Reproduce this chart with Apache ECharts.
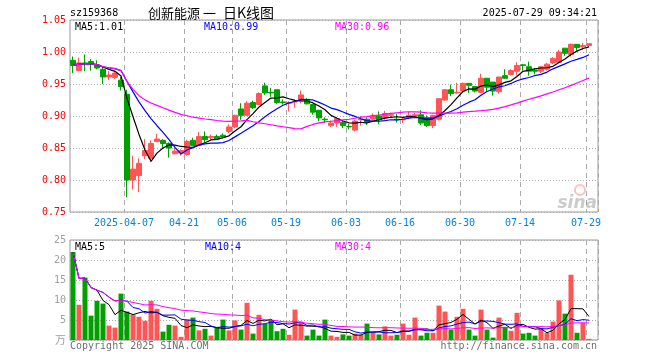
<!DOCTYPE html>
<html>
<head>
<meta charset="utf-8">
<script src="https://cdn.jsdelivr.net/npm/echarts@6/dist/echarts.min.js"></script>
<style>html,body{margin:0;padding:0;background:#fff;}#c{width:660px;height:360px;}</style>
</head>
<body>
<div id="c"></div>
<script>
// ---- data ----
const dates = [
 '2025-03-24','2025-03-25','2025-03-26','2025-03-27','2025-03-28','2025-03-31',
 '2025-04-01','2025-04-02','2025-04-03','2025-04-07','2025-04-08','2025-04-09','2025-04-10','2025-04-11',
 '2025-04-14','2025-04-15','2025-04-16','2025-04-17','2025-04-18','2025-04-21','2025-04-22','2025-04-23',
 '2025-04-24','2025-04-25','2025-04-28','2025-04-29','2025-04-30','2025-05-06','2025-05-07','2025-05-08',
 '2025-05-09','2025-05-12','2025-05-13','2025-05-14','2025-05-15','2025-05-16','2025-05-19','2025-05-20',
 '2025-05-21','2025-05-22','2025-05-23','2025-05-26','2025-05-27','2025-05-28','2025-05-29','2025-05-30',
 '2025-06-03','2025-06-04','2025-06-05','2025-06-06','2025-06-09','2025-06-10','2025-06-11','2025-06-12',
 '2025-06-13','2025-06-16','2025-06-17','2025-06-18','2025-06-19','2025-06-20','2025-06-23','2025-06-24',
 '2025-06-25','2025-06-26','2025-06-27','2025-06-30','2025-07-01','2025-07-02','2025-07-03','2025-07-04',
 '2025-07-07','2025-07-08','2025-07-09','2025-07-10','2025-07-11','2025-07-14','2025-07-15','2025-07-16',
 '2025-07-17','2025-07-18','2025-07-21','2025-07-22','2025-07-23','2025-07-24','2025-07-25','2025-07-28',
 '2025-07-29'];
const openP = [0.987,0.971,0.983,0.985,0.980,0.973,0.961,0.960,0.956,0.934,0.800,0.807,0.838,0.834,
 0.860,0.862,0.857,0.841,0.842,0.840,0.862,0.854,0.868,0.866,0.868,0.870,0.876,0.883,0.911,0.901,
 0.921,0.918,0.947,0.937,0.941,0.922,0.920,0.922,0.923,0.926,0.918,0.909,0.895,0.885,0.889,0.890,
 0.8835,0.878,0.894,0.895,0.895,0.900,0.897,0.901,0.895,0.894,0.898,0.900,0.902,0.897,0.885,0.895,
 0.925,0.941,0.936,0.939,0.951,0.946,0.937,0.959,0.953,0.938,0.963,0.965,0.970,0.980,0.977,0.972,
 0.970,0.973,0.983,0.984,1.006,0.996,1.012,1.008,1.010];
const closeP = [0.979,0.983,0.982,0.982,0.975,0.961,0.964,0.967,0.946,0.800,0.817,0.826,0.846,0.857,
 0.864,0.857,0.850,0.845,0.846,0.860,0.854,0.868,0.863,0.868,0.864,0.867,0.883,0.901,0.901,0.920,
 0.913,0.935,0.936,0.936,0.921,0.921,0.921,0.923,0.933,0.919,0.906,0.897,0.894,0.889,0.896,0.885,
 0.883,0.892,0.895,0.890,0.900,0.894,0.904,0.902,0.894,0.895,0.901,0.902,0.889,0.885,0.901,0.927,
 0.941,0.935,0.937,0.951,0.948,0.939,0.959,0.945,0.939,0.961,0.959,0.971,0.979,0.979,0.970,0.970,
 0.977,0.981,0.990,1.000,0.998,1.012,1.007,1.010,1.013];
const lowP = [0.967,0.970,0.970,0.971,0.973,0.950,0.956,0.958,0.940,0.773,0.785,0.781,0.833,0.828,
 0.859,0.850,0.835,0.840,0.838,0.838,0.853,0.853,0.858,0.863,0.863,0.865,0.873,0.881,0.894,0.900,
 0.911,0.917,0.933,0.930,0.919,0.918,0.907,0.913,0.920,0.918,0.902,0.892,0.889,0.883,0.883,0.881,
 0.879,0.876,0.885,0.886,0.894,0.887,0.894,0.897,0.890,0.889,0.895,0.898,0.886,0.883,0.881,0.893,
 0.924,0.931,0.935,0.937,0.936,0.937,0.936,0.939,0.932,0.935,0.958,0.963,0.963,0.971,0.963,0.965,
 0.967,0.971,0.981,0.983,0.994,0.993,1.002,1.003,1.008];
const highP = [0.993,0.991,0.996,0.989,0.987,0.978,0.970,0.971,0.961,0.941,0.838,0.834,0.864,0.862,
 0.872,0.864,0.859,0.850,0.848,0.863,0.866,0.875,0.876,0.871,0.871,0.873,0.887,0.902,0.920,0.923,
 0.924,0.937,0.952,0.944,0.941,0.926,0.923,0.926,0.940,0.928,0.918,0.909,0.898,0.893,0.898,0.894,
 0.888,0.894,0.900,0.898,0.904,0.907,0.908,0.905,0.903,0.898,0.907,0.905,0.909,0.901,0.902,0.928,
 0.942,0.949,0.952,0.952,0.951,0.947,0.966,0.959,0.953,0.961,0.973,0.973,0.984,0.981,0.985,0.975,
 0.978,0.983,0.992,1.003,1.006,1.013,1.012,1.014,1.013];
const volume = [22.0,8.8,15.6,6.1,9.8,9.1,3.6,3.1,11.6,7.1,6.4,5.8,4.8,9.8,7.8,2.1,3.8,3.6,0.8,5.1,
 5.6,2.4,2.8,1.1,3.3,5.1,2.4,4.9,2.6,9.3,1.6,6.3,4.0,5.0,2.2,2.8,1.3,7.6,4.6,1.1,2.6,1.1,5.1,1.1,
 0.8,1.4,1.1,1.6,1.3,4.1,2.0,1.4,3.4,1.1,1.3,4.1,1.3,5.6,1.1,1.8,1.8,8.6,7.1,2.6,5.8,7.8,2.6,1.1,
 7.6,2.6,0.6,5.6,3.3,2.3,6.8,1.6,1.8,1.1,2.8,1.8,4.6,9.9,6.6,16.3,1.8,4.3,0.3];
const tickDates = ['2025-04-07','2025-04-21','2025-05-06','2025-05-19','2025-06-03','2025-06-16','2025-06-30','2025-07-14','2025-07-29'];
const tickTexts = ['2025-04-07','04-21','05-06','05-19','06-03','06-16','06-30','07-14','07-29'];
const priceTicks = {min: 0.75, max: 1.05, interval: 0.05};
const volTicks = {min: 0, max: 25, interval: 5};
const maPeriods = [5, 10, 30];
const priceLegend = ['MA5:1.01', 'MA10:0.99', 'MA30:0.96'];
const volLegend = ['MA5:5', 'MA10:4', 'MA30:4'];
const headerCode = 'sz159368';
const titleParts = ['创新能源', '一', '日K线图'];
const headerTime = '2025-07-29 09:34:21';
const volUnit = '万';

// ---- derived ----
function movingAvg(arr, n) {
  return arr.map((v, i) => {
    const s = Math.max(0, i - n + 1);
    let sum = 0;
    for (let k = s; k <= i; k++) sum += arr[k];
    return +(sum / (i - s + 1)).toFixed(4);
  });
}
const cats = dates.concat(['']);
const kData = dates.map((d, i) => [openP[i], closeP[i], lowP[i], highP[i]]);
const RED = '#ff5555', GREEN = '#00a000';
const maColors = ['#000000', '#0000ff', '#ff00ff'];
const volData = volume.map((v, i) => ({value: v, itemStyle: {color: closeP[i] >= openP[i] ? RED : GREEN}}));
const tickIdx = tickDates.map(d => dates.indexOf(d));
const isTick = (i) => tickIdx.indexOf(i) >= 0;
const MONO = '10px "DejaVu Sans Mono", monospace';
const CJK = '14px "Noto Sans CJK SC", sans-serif';

const series = [
  {type: 'candlestick', xAxisIndex: 0, yAxisIndex: 0, data: kData, barWidth: 5,
   itemStyle: {color: RED, color0: GREEN, borderColor: RED, borderColor0: GREEN, borderWidth: 1},
   z: 2, animation: false}
];
maPeriods.forEach((n, j) => {
  series.push({type: 'line', xAxisIndex: 0, yAxisIndex: 0, data: movingAvg(closeP, n), showSymbol: false,
    symbol: 'none', lineStyle: {color: maColors[j], width: 1.2}, z: 3, animation: false, silent: true});
});
series.push({type: 'bar', xAxisIndex: 1, yAxisIndex: 1, data: volData, barWidth: 5, z: 2, animation: false});
maPeriods.forEach((n, j) => {
  series.push({type: 'line', xAxisIndex: 1, yAxisIndex: 1, data: movingAvg(volume, n), showSymbol: false,
    symbol: 'none', lineStyle: {color: maColors[j], width: 1}, z: 3, animation: false, silent: true});
});

const splitX = {show: true, interval: (i) => isTick(i), lineStyle: {color: '#aaaaaa', type: [5, 4], width: 1}};
const splitY = {show: true, lineStyle: {color: '#aaaaaa', type: [1, 2], width: 1}};

const txt = (x, y, text, fill, align, font) => ({type: 'text', x: x, y: y, z: 10,
  style: {text: text, fill: fill, font: font || MONO, textAlign: align || 'left', textVerticalAlign: 'middle'}});

const option = {
  animation: false,
  backgroundColor: '#ffffff',
  grid: [
    {left: 70, width: 528, top: 20, height: 192, show: true, borderColor: '#999999', borderWidth: 1, backgroundColor: 'transparent'},
    {left: 70, width: 528, top: 240, height: 100, show: true, borderColor: '#999999', borderWidth: 1, backgroundColor: 'transparent'}
  ],
  xAxis: [
    {type: 'category', gridIndex: 0, data: cats, boundaryGap: true,
     axisLine: {show: false}, axisTick: {show: false},
     axisLabel: {interval: (i) => isTick(i), formatter: (v, i) => tickTexts[tickIdx.indexOf(i)] || '',
       color: '#0a82d8', fontFamily: 'DejaVu Sans Mono', fontSize: 10, margin: 6, padding: [0, 6, 0, 0]},
     splitLine: splitX},
    {type: 'category', gridIndex: 1, data: cats, boundaryGap: true,
     axisLine: {show: false}, axisTick: {show: false}, axisLabel: {show: false}, splitLine: splitX}
  ],
  yAxis: [
    {type: 'value', gridIndex: 0, min: priceTicks.min, max: priceTicks.max, interval: priceTicks.interval,
     axisLine: {show: false}, axisTick: {show: false},
     axisLabel: {color: '#ff0000', fontFamily: 'DejaVu Sans Mono', fontSize: 10, margin: 4, formatter: (v) => v.toFixed(2)},
     splitLine: splitY},
    {type: 'value', gridIndex: 1, min: volTicks.min, max: volTicks.max, interval: volTicks.interval,
     axisLine: {show: false}, axisTick: {show: false},
     axisLabel: {color: '#a0a0a0', fontFamily: 'DejaVu Sans Mono', fontSize: 10, margin: 4, formatter: (v) => v === 0 ? '' : String(v)},
     splitLine: splitY}
  ],
  series: series,
  graphic: [
    txt(70, 13, headerCode, '#000000'),
    txt(148, 13, titleParts[0], '#000000', 'left', '13px "Noto Sans CJK SC", sans-serif'),
    txt(203, 13, titleParts[1], '#000000', 'left', '13px "Noto Sans CJK SC", sans-serif'),
    txt(223, 13, titleParts[2], '#000000', 'left', CJK),
    txt(597, 13, headerTime, '#000000', 'right'),
    txt(75, 27, priceLegend[0], maColors[0]),
    txt(204, 27, priceLegend[1], maColors[1]),
    txt(335, 27, priceLegend[2], maColors[2]),
    txt(75, 247, volLegend[0], maColors[0]),
    txt(205, 247, volLegend[1], maColors[1]),
    txt(335, 247, volLegend[2], maColors[2]),
    txt(66, 340, volUnit, '#a0a0a0', 'right', '11px "Noto Sans CJK SC", sans-serif'),
    txt(70, 346, 'Copyright 2025 SINA.COM', '#707070'),
    txt(597, 346, 'http://finance.sina.com.cn', '#707070', 'right'),
    {type: 'text', x: 597, y: 204, z: 1, style: {text: 'sina', fill: 'rgba(160,160,160,0.55)',
      font: 'italic bold 17px "DejaVu Sans", sans-serif', textAlign: 'right', textVerticalAlign: 'middle'}},
    {type: 'circle', shape: {cx: 580, cy: 190, r: 5}, z: 1, style: {fill: 'none', stroke: 'rgba(240,120,120,0.45)', lineWidth: 2}}
  ]
};
const chart = echarts.init(document.getElementById('c'), null, {renderer: 'canvas'});
chart.setOption(option);
</script>
</body>
</html>
